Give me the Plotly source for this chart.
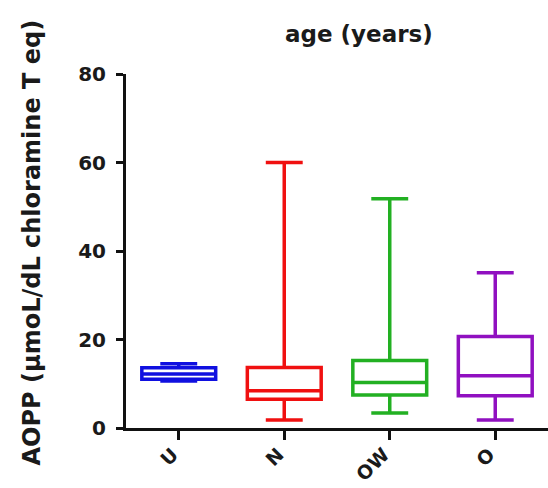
import plotly.graph_objects as go

categories = ["U", "N", "OW", "O"]
lower_whisker = [10.6, 1.8, 3.4, 1.8]
q1_values = [11.0, 6.5, 7.45, 7.3]
median_values = [12.2, 8.4, 10.3, 11.8]
q3_values = [13.6, 13.7, 15.25, 20.7]
upper_whisker = [14.5, 60.0, 51.8, 35.1]
colors = ["#1010e0", "#f01010", "#22b022", "#9010c0"]
y_ticks = [0, 20, 40, 60, 80]

fig = go.Figure()
for i, cat in enumerate(categories):
    fig.add_trace(go.Box(
        x=[cat],
        q1=[q1_values[i]],
        median=[median_values[i]],
        q3=[q3_values[i]],
        lowerfence=[lower_whisker[i]],
        upperfence=[upper_whisker[i]],
        width=0.7,
        whiskerwidth=0.5,
        line=dict(color=colors[i], width=3.5),
        fillcolor="rgba(255,255,255,0)",
        boxpoints=False,
        showlegend=False,
        hoverinfo="skip",
    ))

tickfont = dict(family="DejaVu Sans", size=20, color="#1a1a1a", weight="bold")
xtickfont = dict(family="DejaVu Sans", size=19, color="#1a1a1a", weight="bold")

fig.update_layout(
    width=548,
    height=488,
    margin=dict(l=126, r=0, t=74, b=60, autoexpand=False),
    paper_bgcolor="white",
    plot_bgcolor="white",
    boxmode="overlay",
    xaxis=dict(
        type="category",
        categoryorder="array",
        categoryarray=categories,
        range=[-0.5, 3.5],
        automargin=False,
        showline=True,
        linewidth=3,
        linecolor="#111111",
        ticks="outside",
        ticklen=9,
        tickwidth=3,
        tickcolor="#111111",
        tickangle=-45,
        tickfont=xtickfont,
        ticklabelshift=-6,
        ticklabelstandoff=-4,
        showgrid=False,
        zeroline=False,
    ),
    yaxis=dict(
        range=[0, 80],
        tickvals=y_ticks,
        automargin=False,
        showline=True,
        linewidth=3,
        linecolor="#111111",
        ticks="outside",
        ticklen=7,
        tickwidth=3,
        tickcolor="#111111",
        tickfont=tickfont,
        showgrid=False,
        zeroline=False,
        ticklabelstandoff=6,
    ),
    annotations=[
        dict(
            text="age (years)",
            xref="paper", yref="paper",
            x=0.551, y=1.113,
            xanchor="center", yanchor="middle",
            showarrow=False,
            font=dict(family="DejaVu Sans", size=23, color="#1a1a1a", weight="bold"),
        ),
        dict(
            text="AOPP (µmoL/dL chloramine T eq)",
            xref="paper", yref="paper",
            x=-0.222, y=0.525,
            xanchor="center", yanchor="middle",
            textangle=-90,
            showarrow=False,
            font=dict(family="DejaVu Sans", size=24, color="#1a1a1a", weight="bold"),
        ),
    ],
)

fig.write_html("out.html")
